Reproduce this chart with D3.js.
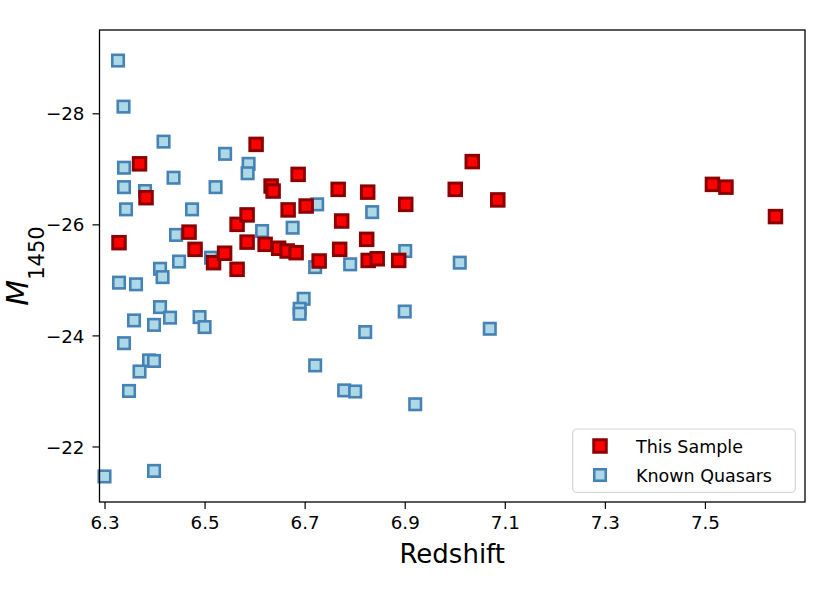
<!DOCTYPE html>
<html>
<head>
<meta charset="utf-8">
<script src="https://cdn.jsdelivr.net/npm/d3@7"></script>
<style>
  html, body { margin: 0; padding: 0; background: #fff; }
  svg { display: block; font-family: "DejaVu Sans", sans-serif; }
</style>
</head>
<body>
<svg id="chart" width="830" height="605"></svg>
<script>
// ---- data ----
const sampleZ = [6.329, 6.370, 6.383, 6.469, 6.481, 6.518, 6.540, 6.565, 6.565, 6.585,
                 6.585, 6.603, 6.621, 6.633, 6.637, 6.648, 6.665, 6.667, 6.683, 6.687,
                 6.703, 6.729, 6.767, 6.770, 6.774, 6.824, 6.826, 6.827, 6.845, 6.888,
                 6.902, 7.001, 7.035, 7.086, 7.515, 7.542, 7.641];
const sampleM = [-25.67, -27.09, -26.48, -25.86, -25.55, -25.31, -25.48, -26.00, -25.19, -26.17,
                 -25.68, -27.44, -25.64, -26.69, -26.60, -25.57, -25.52, -26.26, -25.49, -26.90,
                 -26.33, -25.34, -26.63, -25.55, -26.06, -25.73, -26.58, -25.35, -25.38, -25.35,
                 -26.36, -26.63, -27.13, -26.44, -26.72, -26.67, -26.14];

const knownZ = [6.327, 6.338, 6.418, 6.339, 6.541, 6.588, 6.586, 6.438, 6.339, 6.381,
                6.522, 6.343, 6.475, 6.615, 6.443, 6.449, 6.411, 6.416, 6.329, 6.363,
                6.513, 6.725, 6.835, 6.676, 6.901, 6.721, 6.791, 6.698, 6.690, 6.690,
                7.010, 6.900, 7.070, 6.821, 6.721, 6.779, 6.801, 6.921, 6.411, 6.431,
                6.359, 6.399, 6.490, 6.500, 6.339, 6.389, 6.399, 6.370, 6.349, 6.399,
                6.300];
const knownM = [-28.95, -28.12, -27.49, -27.02, -27.27, -27.09, -26.92, -26.84, -26.67, -26.60,
                -26.67, -26.27, -26.27, -25.88, -25.81, -25.33, -25.20, -25.05, -24.95, -24.92,
                -25.40, -26.36, -26.22, -25.94, -25.52, -25.23, -25.28, -24.66, -24.48, -24.39,
                -25.31, -24.43, -24.12, -24.06, -23.46, -23.01, -22.99, -22.76, -24.51, -24.32,
                -24.27, -24.19, -24.33, -24.15, -23.86, -23.55, -23.54, -23.35, -23.00, -21.56,
                -21.46];

const xTicks = [6.3, 6.5, 6.7, 6.9, 7.1, 7.3, 7.5];
const yTicks = [-28, -26, -24, -22];
const seriesNames = ["This Sample", "Known Quasars"];

// ---- layout ----
const svg = d3.select("#chart");
const L = 99.5, R = 805, T = 30, B = 502;

const x = d3.scaleLinear().domain([6.29, 7.70]).range([L, R]);
const y = d3.scaleLinear().domain([-21, -29.5]).range([B, T]);

const fmtY = d => (d < 0 ? "\u2212" + Math.abs(d) : String(d));

// points
const knownData = knownZ.map((z, i) => ({ z, m: knownM[i] }));
const sampleData = sampleZ.map((z, i) => ({ z, m: sampleM[i] }));

const blueS = 11.5, redS = 12.5;
svg.append("g").selectAll("rect").data(knownData).join("rect")
  .attr("x", d => x(d.z) - blueS / 2)
  .attr("y", d => y(d.m) - blueS / 2)
  .attr("width", blueS).attr("height", blueS)
  .attr("fill", "#add8e6").attr("stroke", "#4682b4").attr("stroke-width", 2.6);

svg.append("g").selectAll("rect").data(sampleData).join("rect")
  .attr("x", d => x(d.z) - redS / 2)
  .attr("y", d => y(d.m) - redS / 2)
  .attr("width", redS).attr("height", redS)
  .attr("fill", "#ff0000").attr("stroke", "#8b0000").attr("stroke-width", 3);

// axes
const xAxis = d3.axisBottom(x).tickValues(xTicks).tickFormat(d3.format(".1f"))
  .tickSize(7).tickPadding(7);
const yAxis = d3.axisLeft(y).tickValues(yTicks).tickFormat(fmtY)
  .tickSize(7).tickPadding(8);

const gx = svg.append("g").attr("transform", `translate(0,${B})`).call(xAxis);
const gy = svg.append("g").attr("transform", `translate(${L},0)`).call(yAxis);
[gx, gy].forEach(g => {
  g.select(".domain").remove();
  g.selectAll(".tick line").attr("stroke", "#000").attr("stroke-width", 1.2);
  g.selectAll(".tick text").attr("fill", "#000")
    .style("font-family", "DejaVu Sans").style("font-size", "18.3px");
});
gy.selectAll(".tick text").attr("dy", "0.36em");

// frame
svg.append("rect").attr("x", L).attr("y", T).attr("width", R - L).attr("height", B - T)
  .attr("fill", "none").attr("stroke", "#000").attr("stroke-width", 1.3);

// axis labels
svg.append("text").attr("x", (L + R) / 2).attr("y", 563)
  .attr("text-anchor", "middle").style("font-size", "26px").attr("fill", "#000")
  .text("Redshift");

const yl = svg.append("text")
  .attr("transform", `translate(27.5,${(T + B) / 2}) rotate(-90)`)
  .attr("text-anchor", "middle").attr("fill", "#000");
yl.append("tspan").style("font-size", "30px").style("font-style", "italic").text("M");
yl.append("tspan").attr("dy", 16).style("font-size", "21px").text("1450");

// legend
const lg = svg.append("g");
lg.append("rect").attr("x", 572.7).attr("y", 429).attr("width", 222.6).attr("height", 63.3)
  .attr("rx", 4).attr("fill", "#fff").attr("fill-opacity", 0.8)
  .attr("stroke", "#d5d5d5").attr("stroke-width", 1.2);
const legendItems = [
  { name: seriesNames[0], fill: "#ff0000", stroke: "#8b0000", s: redS, sw: 3, cy: 446 },
  { name: seriesNames[1], fill: "#add8e6", stroke: "#4682b4", s: blueS, sw: 2.6, cy: 475 }
];
legendItems.forEach(it => {
  lg.append("rect").attr("x", 600 - it.s / 2).attr("y", it.cy - it.s / 2)
    .attr("width", it.s).attr("height", it.s)
    .attr("fill", it.fill).attr("stroke", it.stroke).attr("stroke-width", it.sw);
  lg.append("text").attr("x", 636).attr("y", it.cy + 6.5)
    .style("font-size", "17.5px").attr("fill", "#000").text(it.name);
});
</script>
</body>
</html>
